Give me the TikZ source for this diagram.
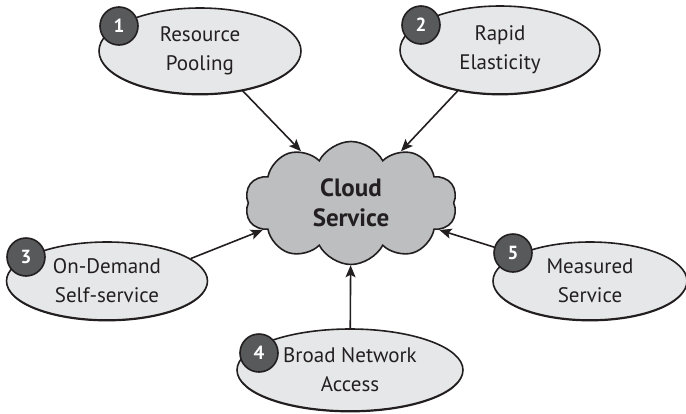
\documentclass[tikz,border=0pt]{standalone}
\usepackage{fontspec}
\setmainfont{PT Sans}
\usetikzlibrary{shapes.symbols,shapes.geometric,arrows.meta}
\definecolor{ovalfill}{HTML}{E6E7E8}
\definecolor{cloudfill}{HTML}{BCBEC0}
\definecolor{badgefill}{HTML}{58595B}
\definecolor{ink}{HTML}{231F20}

\begin{document}
\begin{tikzpicture}[x=1pt,y=-1pt,
  feature/.style n args={2}{ellipse, draw=ink, line width=1.6pt, fill=ovalfill,
    preaction={fill=ink, transform canvas={yshift=-1.4pt}},
    inner sep=0pt, minimum width=#1pt, minimum height=#2pt, align=center,
    text=ink, font=\fontsize{21}{29}\selectfont},
  badge/.style={circle, draw=ink, line width=1.6pt, fill=badgefill, text=white,
    inner sep=0pt, minimum size=38pt, font=\bfseries\fontsize{19}{19}\selectfont},
  arr/.style={draw=ink, line width=1.6pt, -{Stealth[length=12pt,width=10pt,inset=2.5pt]}}
]
\useasboundingbox (0,0) rectangle (686,413);

% feature ovals
\node[feature={202}{86}] (e1) at (200,51) {Resource\\Pooling};
\node[feature={200}{88}] (e2) at (500,50) {Rapid\\Elasticity};
\node[feature={201}{78}] (e3) at (107,281) {On-Demand\\Self-service};
\node[feature={226}{82}] (e4) at (350,370) {Broad Network\\Access};
\node[feature={194}{78}] (e5) at (590,281) {Measured\\Service};

% numbered badges
\node[badge] (b1) at (119,26) {1};
\node[badge] (b2) at (421,25) {2};
\node[badge] (b3) at (26,257) {3};
\node[badge] (b4) at (259,353) {4};
\node[badge] (b5) at (513,253) {5};

% central cloud
\node[cloud, cloud puffs=10, cloud puff arc=125, aspect=1.72, draw=ink,
  line width=1.6pt, fill=cloudfill, minimum width=212pt, minimum height=123pt,
  inner sep=0pt, align=center, text=ink,
  font=\bfseries\fontsize{25}{30}\selectfont] (cloud) at (351,203) {Cloud\\Service};

% connectors
\draw[arr] (e1.-43) -- (cloud.134);
\draw[arr] (e2.224) -- (cloud.46);
\draw[arr] (e3.15) -- (cloud.197);
\draw[arr] (b5) -- (cloud.343);
\draw[arr] (e4) -- (cloud);
\end{tikzpicture}
\end{document}
